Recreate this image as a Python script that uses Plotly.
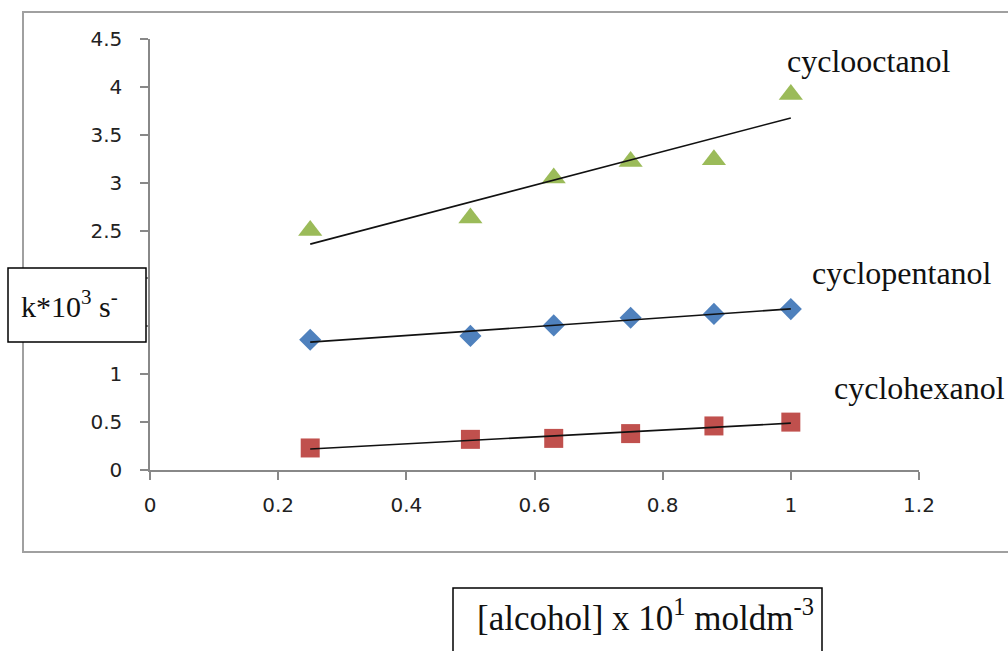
import numpy as np
import plotly.graph_objects as go

# ---- data ----
conc = [0.25, 0.5, 0.63, 0.75, 0.88, 1.0]
cyclooctanol = [2.50, 2.63, 3.05, 3.22, 3.24, 3.92]
cyclopentanol = [1.36, 1.40, 1.51, 1.59, 1.63, 1.68]
cyclohexanol = [0.23, 0.32, 0.33, 0.38, 0.46, 0.50]
series_names = ["cyclooctanol", "cyclopentanol", "cyclohexanol"]
x_ticks = [0, 0.2, 0.4, 0.6, 0.8, 1, 1.2]
y_ticks = [0, 0.5, 1, 1.5, 2, 2.5, 3, 3.5, 4, 4.5]
# labels 1.5 and 2 are hidden behind the y-title box in the reference
y_ticktext = ["0", "0.5", "1", "", "", "2.5", "3", "3.5", "4", "4.5"]

W, H = 1008, 651
L, R, T, B = 150, 89, 39, 181
PW, PH = W - L - R, H - T - B


def px(xp):
    return (xp - L) / PW


def py(yp):
    return (H - B - yp) / PH


fig = go.Figure()

styles = [
    (cyclooctanol, "#9BBB59", "triangle-up", 21),
    (cyclopentanol, "#4F81BD", "diamond", 17),
    (cyclohexanol, "#C0504D", "square", 19),
]

for (vals, col, sym, sz), name in zip(styles, series_names):
    fig.add_trace(go.Scatter(x=conc, y=vals, mode="markers", name=name,
                             marker=dict(color=col, symbol=sym, size=sz,
                                         line=dict(width=0))))
    m, c = np.polyfit(conc, vals, 1)
    xs = [min(conc), max(conc)]
    fig.add_trace(go.Scatter(x=xs, y=[m * v + c for v in xs], mode="lines",
                             line=dict(color="#111111", width=1.6),
                             showlegend=False, hoverinfo="skip"))

# series labels
label_pos = [(785, 61), (810, 273), (832, 388)]
for name, (lx, ly) in zip(series_names, label_pos):
    fig.add_annotation(text=name, xref="paper", yref="paper", x=px(lx), y=py(ly),
                       xanchor="left", yanchor="middle", showarrow=False,
                       font=dict(family="Liberation Serif", size=32, color="#111111"))

shapes = [
    # outer chart border
    dict(type="rect", xref="paper", yref="paper", x0=px(23), x1=px(1014),
         y0=py(552), y1=py(12), line=dict(color="#A0A0A0", width=2),
         fillcolor="rgba(0,0,0,0)", layer="below"),
    # y label box
    dict(type="rect", xref="paper", yref="paper", x0=px(8), x1=px(146),
         y0=py(342), y1=py(268), line=dict(color="#000000", width=1.5),
         fillcolor="white", layer="above"),
    # x label box
    dict(type="rect", xref="paper", yref="paper", x0=px(453), x1=px(822),
         y0=py(665), y1=py(588), line=dict(color="#000000", width=1.5),
         fillcolor="white", layer="above"),
]

fig.add_annotation(text="k*10<sup>3</sup> s<sup>-</sup>", xref="paper", yref="paper",
                   x=px(69), y=py(304), xanchor="center", yanchor="middle",
                   showarrow=False,
                   font=dict(family="Liberation Serif", size=30, color="#111111"))
fig.add_annotation(text="[alcohol] x 10<sup>1</sup> moldm<sup>-3</sup>", xref="paper",
                   yref="paper", x=px(645), y=py(615), xanchor="center",
                   yanchor="middle", showarrow=False,
                   font=dict(family="Liberation Serif", size=35, color="#111111"))

axis_common = dict(showgrid=False, zeroline=False, showline=True,
                   linecolor="#888888", linewidth=1.5, ticks="outside",
                   ticklen=8, tickwidth=1.5, tickcolor="#888888",
                   tickfont=dict(family="DejaVu Sans", size=20, color="#222222"))

fig.update_layout(
    width=W, height=H,
    margin=dict(l=L, r=R, t=T, b=B),
    paper_bgcolor="white", plot_bgcolor="white",
    showlegend=False,
    shapes=shapes,
    xaxis=dict(range=[0, 1.2], tickvals=x_ticks,
               ticktext=[f"{v:g}" for v in x_ticks], ticklabelstandoff=8,
               **axis_common),
    yaxis=dict(range=[0, 4.5], tickvals=y_ticks,
               ticktext=y_ticktext, ticklabelstandoff=14,
               **axis_common),
)

fig.write_html("out.html", config={"displayModeBar": False},
               post_script="document.body.style.margin='0';document.body.style.overflow='hidden';")
